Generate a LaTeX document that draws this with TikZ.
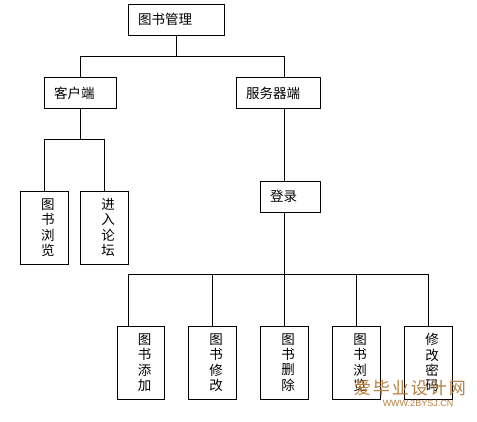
\documentclass[tikz,border=0pt]{standalone}
\usepackage{fontspec}
\setmainfont{Noto Sans CJK SC}
\newfontfamily\wmfont{Liberation Sans}
\definecolor{wm}{RGB}{184,128,64}
\newcommand{\vtext}[1]{\hspace*{8pt}\shortstack{#1}}
\begin{document}
\begin{tikzpicture}[x=1pt,y={(0pt,-1pt)},
  hbox/.style={draw, line width=0.9pt, inner xsep=10pt, inner ysep=0pt,
    minimum height=31pt, text width=#1, align=left,
    font=\fontsize{13.5}{13.5}\selectfont},
  vbox/.style={draw, line width=0.9pt, inner sep=0pt, minimum width=48pt,
    minimum height=73pt, font=\fontsize{13.5}{13.8}\selectfont},
  conn/.style={line width=0.9pt}]
\fill[white] (0,0) rectangle (477,421);
\useasboundingbox (0,0) rectangle (477,421);

\node[hbox=76pt] (top) at (176,19.5) {图书管理};
\node[hbox=52pt] (client) at (80,93) {客户端};
\node[hbox=64pt] (server) at (278,93) {服务器端};
\node[hbox=40pt] (login) at (290,196.5) {登录};

\node[vbox] (c1) at (44,227.5) {\vtext{图\\书\\浏\\览}};
\node[vbox] (c2) at (104,227.5) {\vtext{进\\入\\论\\坛}};

\node[vbox, minimum width=47pt] (b1) at (140.5,362.5) {\vtext{图\\书\\添\\加}};
\node[vbox] (b2) at (212,362.5) {\vtext{图\\书\\修\\改}};
\node[vbox] (b3) at (284,362.5) {\vtext{图\\书\\删\\除}};
\node[vbox] (b4) at (356,362.5) {\vtext{图\\书\\浏\\览}};
\node[vbox] (b5) at (428,362.5) {\vtext{修\\改\\密\\码}};

\coordinate (sx) at (284,56);
\coordinate (cj) at (80,139);
\coordinate (bus) at (284,274);
\coordinate (l1) at (128,274);

\draw[conn] (top.south) -- (top.south |- sx);
\draw[conn] (client.north) -- (client.north |- sx) -- (sx) -- (sx |- server.north);
\draw[conn] (sx |- server.south) -- (sx |- login.north);
\draw[conn] (client.south) -- (cj);
\draw[conn] (c1.north) -- (c1.north |- cj) -- (c2.north |- cj) -- (c2.north);
\draw[conn] (sx |- login.south) -- (bus);
\draw[conn] (l1) -- (l1 |- b1.north);
\draw[conn] (l1) -- (b5.north |- bus) -- (b5.north);
\draw[conn] (b2.north |- bus) -- (b2.north);
\draw[conn] (bus) -- (b3.north);
\draw[conn] (b4.north |- bus) -- (b4.north);

\node[text=wm, font=\fontsize{17}{17}\selectfont, inner sep=0pt] (wm1) at (410,388) {爱\hspace{2pt}毕\hspace{2pt}业\hspace{2pt}设\hspace{2pt}计\hspace{2pt}网};
\node[text=wm, font=\wmfont\fontsize{9}{9}\selectfont, inner sep=0pt] (wm2) at (418,403) {WWW.2BYSJ.CN};
\end{tikzpicture}
\end{document}
